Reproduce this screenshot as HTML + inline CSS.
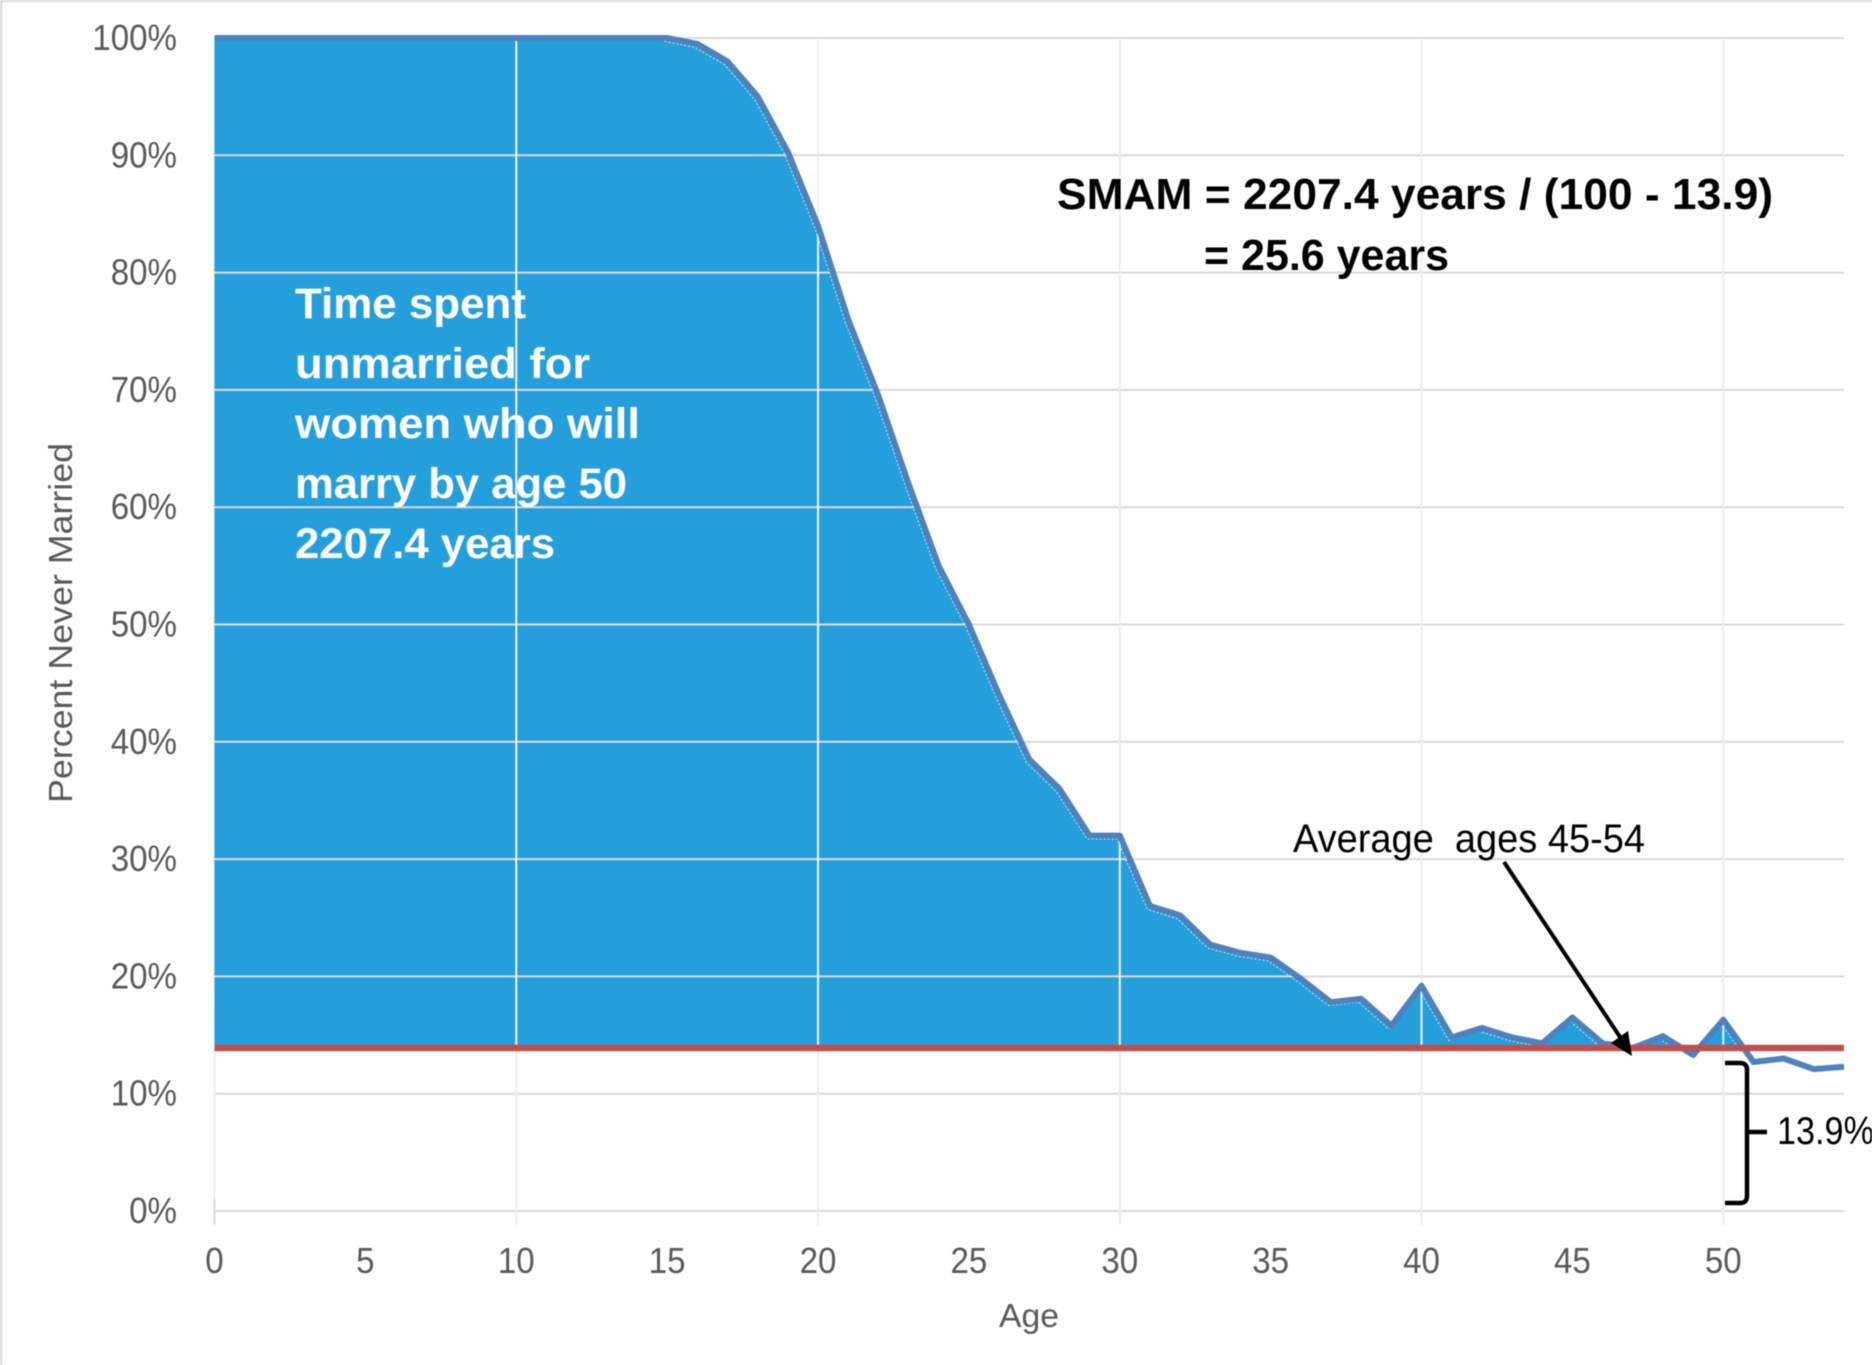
<!DOCTYPE html>
<html lang="en">
<head>
<meta charset="utf-8">
<title>Percent Never Married by Age</title>
<style>
html,body{margin:0;padding:0;background:#fff;width:1872px;height:1365px;overflow:hidden}
svg{display:block;font-family:"Liberation Sans",sans-serif;filter:blur(0.5px)}
</style>
</head>
<body>
<svg id="chart" xmlns="http://www.w3.org/2000/svg" width="1872" height="1365" viewBox="0 0 1872 1365">
  <rect x="0" y="0" width="1872" height="1365" fill="#ffffff"/>
  <rect x="0" y="0" width="1872" height="2" fill="#d9d9d9"/>
  <rect x="0" y="0" width="2" height="1365" fill="#d9d9d9"/>
  <g id="layer-grid-back"></g>
  <g id="layer-area"></g>
  <g id="layer-grid-front"></g>
  <g id="layer-lines"></g>
  <g id="layer-ticks"></g>

  <text transform="translate(72,623) rotate(-90)" text-anchor="middle" font-size="33" fill="#595959" textLength="360" lengthAdjust="spacingAndGlyphs">Percent Never Married</text>
  <text x="1029" y="1327" text-anchor="middle" font-size="33" fill="#595959" textLength="60" lengthAdjust="spacingAndGlyphs">Age</text>

  <g font-size="43" font-weight="bold" fill="#ffffff">
    <text x="295" y="318" textLength="231" lengthAdjust="spacingAndGlyphs">Time spent</text>
    <text x="295" y="378" textLength="295" lengthAdjust="spacingAndGlyphs">unmarried for</text>
    <text x="295" y="438" textLength="345" lengthAdjust="spacingAndGlyphs">women who will</text>
    <text x="295" y="498" textLength="332" lengthAdjust="spacingAndGlyphs">marry by age 50</text>
    <text x="295" y="558" textLength="260" lengthAdjust="spacingAndGlyphs">2207.4 years</text>
  </g>

  <g font-size="44" font-weight="bold" fill="#000000">
    <text x="1057" y="209" textLength="716" lengthAdjust="spacingAndGlyphs">SMAM = 2207.4 years / (100 - 13.9)</text>
    <text x="1204" y="270" textLength="245" lengthAdjust="spacingAndGlyphs">= 25.6 years</text>
  </g>

  <text x="1293" y="852" font-size="40" fill="#000000" xml:space="preserve" style="white-space:pre" textLength="352" lengthAdjust="spacingAndGlyphs">Average  ages 45-54</text>
  <line x1="1504" y1="862" x2="1622" y2="1040" stroke="#000000" stroke-width="4"/>
  <polygon points="1632,1056 1611,1043 1628,1031" fill="#000000"/>

  <path d="M1725,1063 L1740,1063 Q1747,1063 1747,1070 L1747,1196 Q1747,1203 1740,1203 L1725,1203 M1747,1132 L1767,1132" fill="none" stroke="#000000" stroke-width="4.5"/>
  <text x="1777" y="1144" font-size="39" fill="#000000" textLength="97" lengthAdjust="spacingAndGlyphs">13.9%</text>
</svg>

<script>
// Chart data
const ages = [0,1,2,3,4,5,6,7,8,9,10,11,12,13,14,15,16,17,18,19,20,21,22,23,24,25,26,27,28,29,30,31,32,33,34,35,36,37,38,39,40,41,42,43,44,45,46,47,48,49,50,51,52,53,54];
const neverMarried = [100,100,100,100,100,100,100,100,100,100,100,100,100,100,100,100,99.5,98,95,90.3,84,76,69.5,62,55,50,44,38.5,36,32,32,26,25.2,22.7,22,21.6,19.8,17.8,18.1,15.8,19.2,14.8,15.6,14.8,14.3,16.5,14.3,13.9,14.9,13.3,16.3,12.7,13,12.1,12.3];
const averageLevel = [13.9];
const yTicks = [0,10,20,30,40,50,60,70,80,90,100];
const xTicks = [0,5,10,15,20,25,30,35,40,45,50];
const xGrid = [0,10,20,30,40,50];

const xScale = function (v) { return 214.5 + v * (1844 - 214.5) / 54; };
const yScale = function (v) { return 1211 - v * 11.73; };
const NS = 'http://www.w3.org/2000/svg';
const xMax = ages[ages.length - 1];
const byId = function (id) { return document.getElementById(id); };

function make(tag, attrs, parent) {
  const el = document.createElementNS(NS, tag);
  Object.keys(attrs).forEach(function (k) { el.setAttribute(k, attrs[k]); });
  parent.appendChild(el);
  return el;
}

function seriesPath(fromAge) {
  let first = true;
  const parts = [];
  ages.forEach(function (a, i) {
    if (a < fromAge) { return; }
    parts.push((first ? 'M' : 'L') + xScale(a).toFixed(1) + ',' + yScale(neverMarried[i]).toFixed(1));
    first = false;
  });
  return parts.join(' ');
}

// Gridlines behind the area
yTicks.forEach(function (t) {
  const l = make('line', {x1: xScale(0), x2: xScale(xMax), y1: yScale(t), y2: yScale(t), stroke: '#d9d9d9', 'stroke-width': 2}, byId('layer-grid-back'));
  
  
});
xGrid.forEach(function (t) {
  const l = make('line', {x1: xScale(t), x2: xScale(t), y1: yScale(100), y2: yScale(0) + 14, stroke: '#eeeeee', 'stroke-width': 2}, byId('layer-grid-back'));
  
  
});
const zeroTick = make('line', {x1: xScale(0), x2: xScale(0), y1: yScale(0) - 12, y2: yScale(0) + 14, stroke: '#d9d9d9', 'stroke-width': 2}, byId('layer-grid-back'));



// Area between series and the average level
const defs = make('defs', {}, byId('layer-area'));
const clip = make('clipPath', {id: 'above-average'}, defs);
make('rect', {x: xScale(0), y: 0, width: xScale(xMax) - xScale(0), height: yScale(averageLevel[0])}, clip);
const area = make('path', {
  d: seriesPath(0) + ' L' + xScale(xMax) + ',' + yScale(averageLevel[0]) + ' L' + xScale(0) + ',' + yScale(averageLevel[0]) + ' Z',
  fill: '#259fdb',
  'clip-path': 'url(#above-average)'
}, byId('layer-area'));



// Gridlines over the area, clipped to it
const areaClip = make('clipPath', {id: 'inside-area'}, defs);
make('path', {d: area.getAttribute('d')}, areaClip);
const frontWrap = make('g', {'clip-path': 'url(#above-average)'}, byId('layer-grid-front'));
const front = make('g', {'clip-path': 'url(#inside-area)'}, frontWrap);
yTicks.forEach(function (t) {
  const l = make('line', {x1: xScale(0), x2: xScale(xMax), y1: yScale(t), y2: yScale(t), stroke: '#dcdcdc', 'stroke-width': 2}, front);
  
  
});
xGrid.slice(1).forEach(function (t) {
  const l = make('line', {x1: xScale(t), x2: xScale(t), y1: yScale(100), y2: yScale(averageLevel[0]), stroke: '#f2f2f2', 'stroke-width': 2}, front);
  
  
});

// Dotted light edge just inside the series line
const edge = make('path', {d: seriesPath(15), fill: 'none', stroke: '#ffffff', 'stroke-width': 1.5, 'stroke-dasharray': '2 2', transform: 'translate(-2.5,3)', 'clip-path': 'url(#inside-area)'}, byId('layer-lines'));



// Series line
const line = make('path', {d: seriesPath(0), fill: 'none', stroke: '#4f81bd', 'stroke-width': 6, 'stroke-linejoin': 'round'}, byId('layer-lines'));



// Average level line
const avg = make('line', {x1: xScale(0), x2: xScale(xMax), y1: yScale(averageLevel[0]), y2: yScale(averageLevel[0]), stroke: '#c0504d', 'stroke-width': 6.5}, byId('layer-lines'));



// Tick labels: taller glyphs squeezed to the reference's narrow widths
yTicks.forEach(function (t) {
  const label = t + '%';
  const e = make('text', {x: 177, y: yScale(t) + 12, 'text-anchor': 'end', 'font-size': 36, fill: '#595959', textLength: (label.length - 1) * 18.4 + 29.5, lengthAdjust: 'spacingAndGlyphs'}, byId('layer-ticks'));
  
  
  e.textContent = label;
});
xTicks.forEach(function (t) {
  const label = String(t);
  const e = make('text', {x: xScale(t), y: 1273, 'text-anchor': 'middle', 'font-size': 36, fill: '#595959', textLength: label.length * 18.4, lengthAdjust: 'spacingAndGlyphs'}, byId('layer-ticks'));
  
  
  e.textContent = label;
});
</script>
</body>
</html>
